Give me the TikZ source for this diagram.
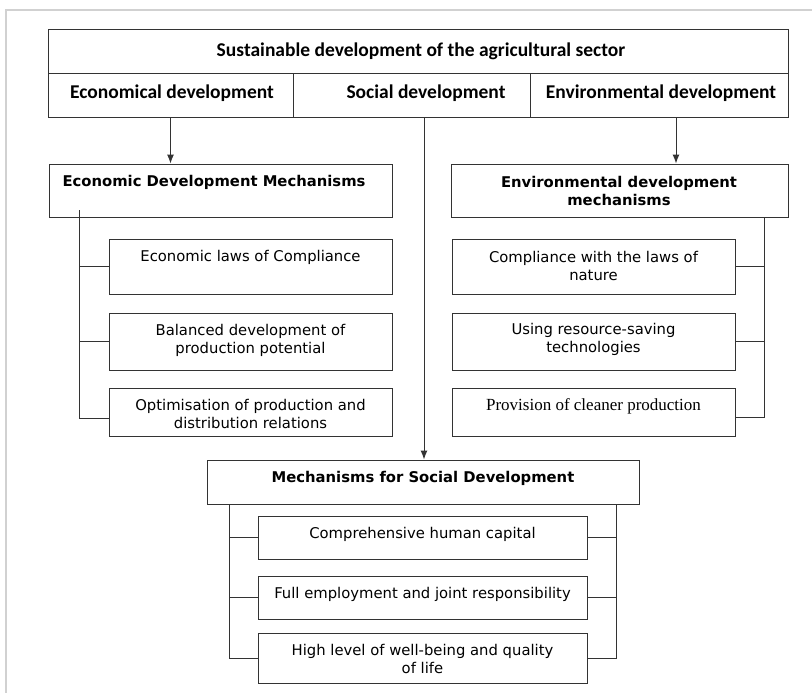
\documentclass[tikz,border=0pt]{standalone}
\usepackage{fontspec}
\setmainfont{DejaVu Sans}
\newfontfamily\topfont{Carlito}
\newfontfamily\serifx{Liberation Serif}
\usetikzlibrary{arrows.meta}
\begin{document}
\begin{tikzpicture}[x=1pt,y=-1pt,
  box/.style={draw=black!80, line width=1pt, inner sep=0pt, fill=none},
  conn/.style={draw=black!80, line width=1pt},
  arr/.style={conn, -{Latex[length=9pt,width=7pt]}},
  toptxt/.style={font=\topfont\bfseries\fontsize{19.5}{22}\selectfont, inner sep=0pt},
  hdr/.style={font=\bfseries\fontsize{14.8}{17.5}\selectfont, align=center, inner sep=0pt},
  txt/.style={font=\fontsize{14.8}{18}\selectfont, align=center, inner sep=0pt},
  sertxt/.style={font=\serifx\fontsize{17}{18}\selectfont, align=center, inner sep=0pt}]
\useasboundingbox (0,0) rectangle (812,693);
\fill[white] (0,0) rectangle (812,693);
% outer frame
\draw[black!18, line width=2pt] (6,693) -- (6,10) -- (812,10);

% top table
\node[box, minimum width=740pt, minimum height=44pt] (sust) at (418,52) {};
\node[box, minimum width=245pt, minimum height=44pt] (eco) at (170.5,96) {};
\node[box, minimum width=237pt, minimum height=44pt] (soc) at (411.5,96) {};
\node[box, minimum width=258pt, minimum height=44pt] (env) at (659,96) {};
\node[toptxt] (sustT) at (421,51) {Sustainable development of the agricultural sector};
\node[toptxt] (ecoT) at (172,93) {Economical development};
\node[toptxt] (socT) at (426,93) {Social development};
\node[toptxt] (envT) at (661,93) {Environmental development};

% economic side
\node[box, minimum width=343pt, minimum height=53pt] (ecm) at (220.5,190.5) {};
\node[hdr] (ecmT) at (214,182) {Economic Development Mechanisms};
\node[box, minimum width=283pt, minimum height=55pt] (e1) at (250.5,266.5) {};
\node[txt] (e1T) at (250.5,257) {Economic laws of Compliance};
\node[box, minimum width=283pt, minimum height=57pt] (e2) at (250.5,341.5) {};
\node[txt] (e2T) at (250.5,340) {Balanced development of\\production potential};
\node[box, minimum width=283pt, minimum height=48pt] (e3) at (250.5,412) {};
\node[txt] (e3T) at (250.5,414) {Optimisation of production and\\distribution relations};

% environmental side
\node[box, minimum width=337pt, minimum height=53pt] (enm) at (619.5,190.5) {};
\node[hdr] (enmT) at (619,191) {Environmental development\\mechanisms};
\node[box, minimum width=283pt, minimum height=55pt] (r1) at (593.5,266.5) {};
\node[txt] (r1T) at (593.5,265.5) {Compliance with the laws of\\nature};
\node[box, minimum width=283pt, minimum height=57pt] (r2) at (593.5,341.5) {};
\node[txt] (r2T) at (593.5,339.5) {Using resource-saving\\technologies};
\node[box, minimum width=283pt, minimum height=48pt] (r3) at (593.5,412) {};
\node[sertxt] (r3T) at (593.5,406) {Provision of cleaner production};

% social side
\node[box, minimum width=432pt, minimum height=44pt] (smb) at (423,482) {};
\node[hdr] (smbT) at (423,478) {Mechanisms for Social Development};
\node[box, minimum width=329pt, minimum height=43pt] (s1) at (422.5,537.5) {};
\node[txt] (s1T) at (422.5,534) {Comprehensive human capital};
\node[box, minimum width=329pt, minimum height=43pt] (s2) at (422.5,597.5) {};
\node[txt] (s2T) at (422.5,594) {Full employment and joint responsibility};
\node[box, minimum width=329pt, minimum height=50pt] (s3) at (422.5,658) {};
\node[txt] (s3T) at (422.5,659) {High level of well-being and quality\\of life};

% arrows from the top table
\draw[arr] (eco.south) -- (eco.south |- ecm.north);
\coordinate (sa) at (424,118);
\draw[arr] (sa) -- (sa |- smb.north);
\coordinate (ea) at (676,118);
\draw[arr] (ea) -- (ea |- enm.north);

% economic tree
\coordinate (eTop) at (79,210);
\coordinate (eBot) at (79,418);
\draw[conn] (eTop) -- (eBot) -- (eBot -| e3.west);
\draw[conn] (eTop |- e1.west) -- (e1.west);
\draw[conn] (eTop |- e2.west) -- (e2.west);

% environmental tree
\coordinate (rTop) at (764,217);
\coordinate (rBot) at (764,417);
\draw[conn] (rTop) -- (rBot) -- (rBot -| r3.east);
\draw[conn] (rTop |- r1.east) -- (r1.east);
\draw[conn] (rTop |- r2.east) -- (r2.east);

% social trees
\coordinate (lTop) at (229,504);
\draw[conn] (lTop) -- (lTop |- s3.west) -- (s3.west);
\draw[conn] (lTop |- s1.west) -- (s1.west);
\draw[conn] (lTop |- s2.west) -- (s2.west);
\coordinate (gTop) at (616,504);
\draw[conn] (gTop) -- (gTop |- s3.east) -- (s3.east);
\draw[conn] (gTop |- s1.east) -- (s1.east);
\draw[conn] (gTop |- s2.east) -- (s2.east);
\end{tikzpicture}
\end{document}
